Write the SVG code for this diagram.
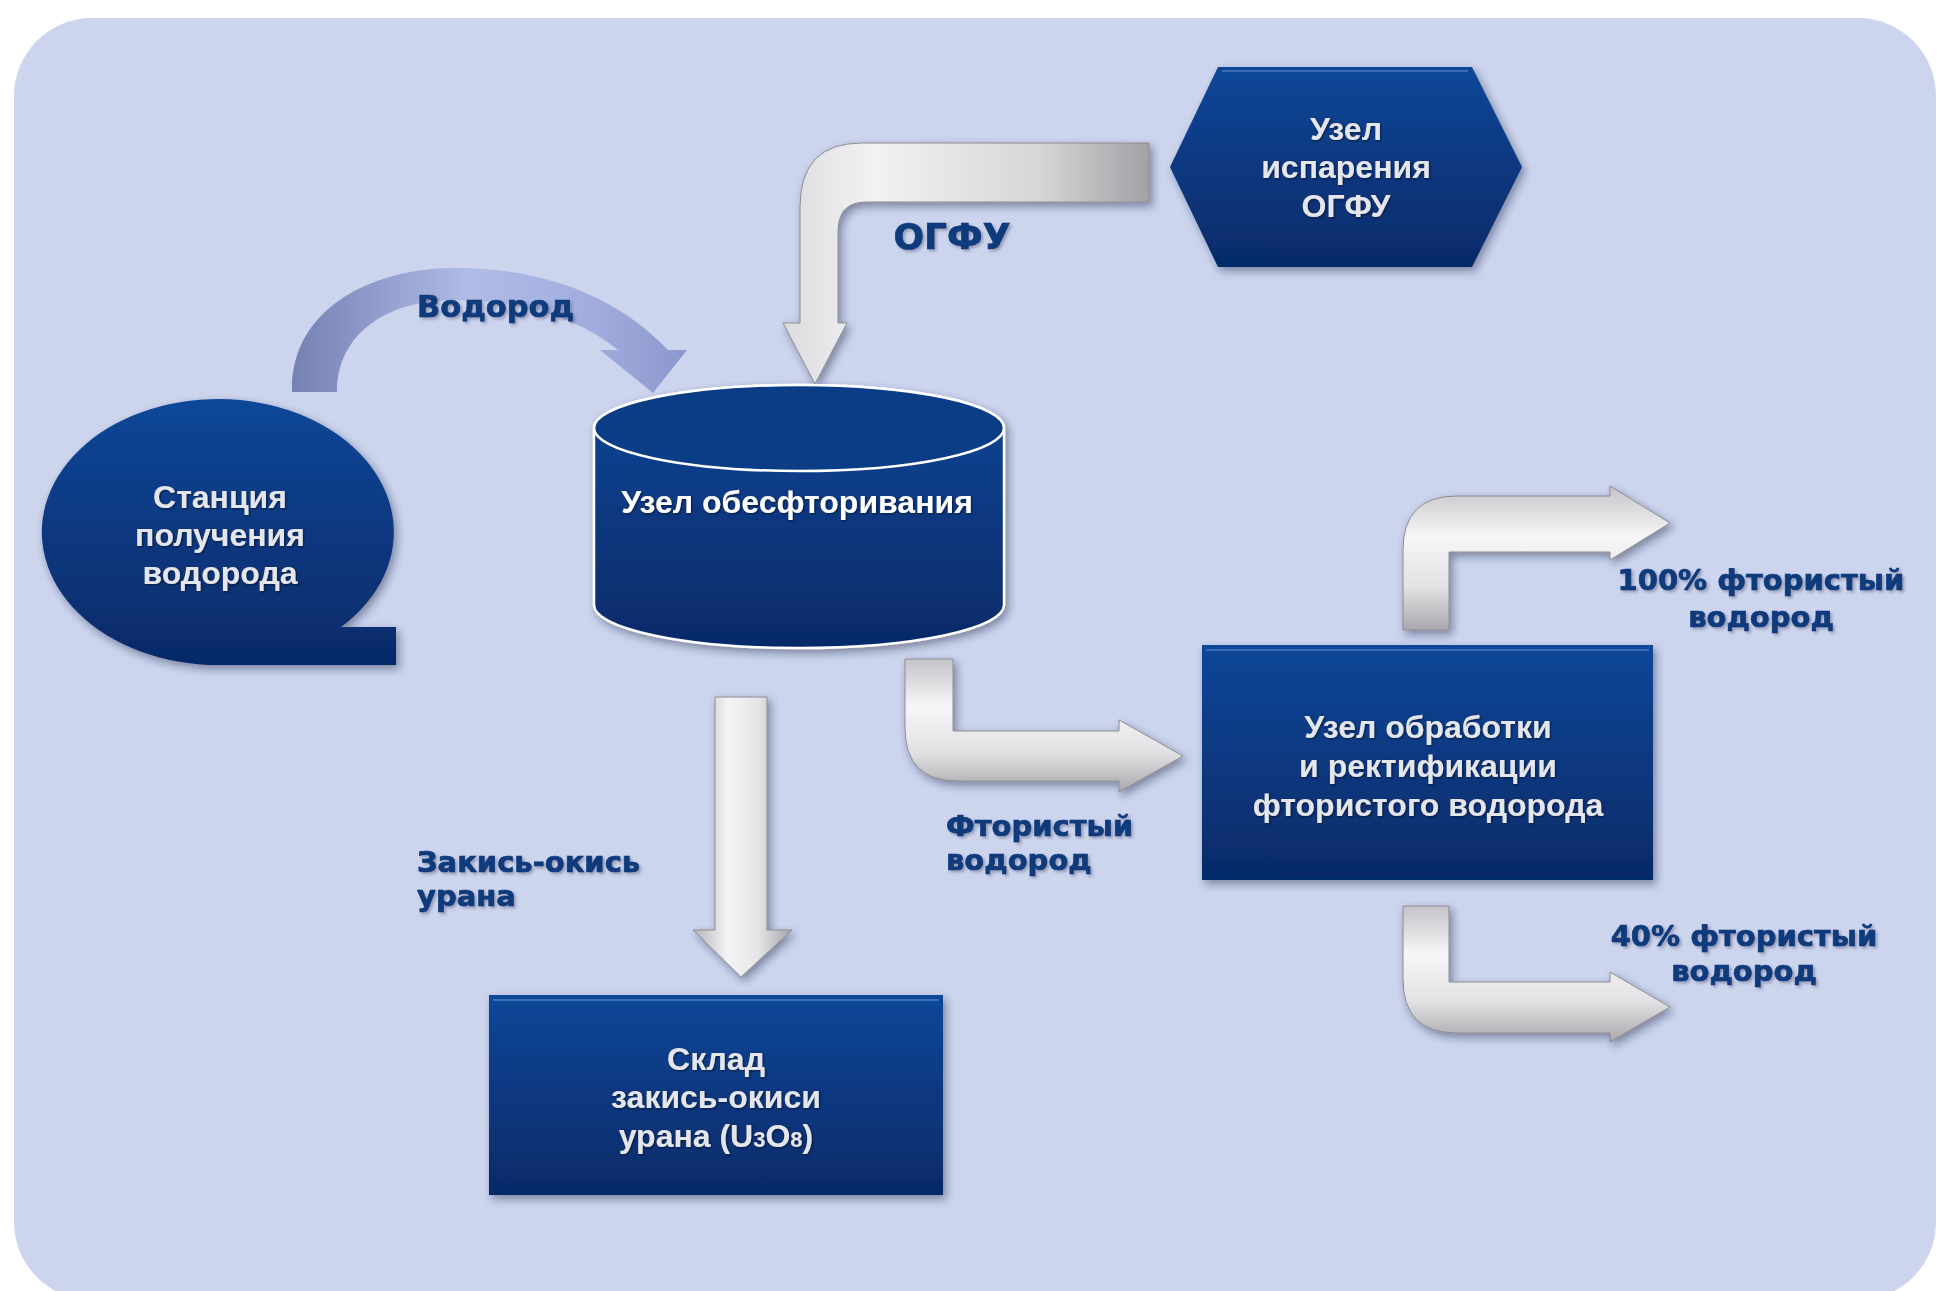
<svg xmlns="http://www.w3.org/2000/svg" width="1939" height="1291" viewBox="0 0 1939 1291">
  <defs>
    <linearGradient id="navy" x1="0" y1="0" x2="0" y2="1">
      <stop offset="0" stop-color="#0f4798"/>
      <stop offset="0.5" stop-color="#0a3880"/>
      <stop offset="1" stop-color="#062a68"/>
    </linearGradient>
    <linearGradient id="silverV" x1="0" y1="0" x2="1" y2="0">
      <stop offset="0" stop-color="#b4b4b8"/>
      <stop offset="0.35" stop-color="#f4f4f6"/>
      <stop offset="0.65" stop-color="#e6e6e8"/>
      <stop offset="1" stop-color="#a6a6aa"/>
    </linearGradient>
    <linearGradient id="silverH" x1="0" y1="0" x2="0" y2="1">
      <stop offset="0" stop-color="#c4c4c8"/>
      <stop offset="0.35" stop-color="#f6f6f8"/>
      <stop offset="0.7" stop-color="#e2e2e4"/>
      <stop offset="1" stop-color="#a8a8ac"/>
    </linearGradient>
    <linearGradient id="silverOgfu" x1="0" y1="0" x2="1" y2="0">
      <stop offset="0" stop-color="#dcdcde"/>
      <stop offset="0.25" stop-color="#f2f2f4"/>
      <stop offset="0.7" stop-color="#d6d6d8"/>
      <stop offset="1" stop-color="#a2a2a6"/>
    </linearGradient>
    <linearGradient id="blueArc" gradientUnits="userSpaceOnUse" x1="292" y1="0" x2="687" y2="0">
      <stop offset="0" stop-color="#7581b2"/>
      <stop offset="0.45" stop-color="#b0bbe6"/>
      <stop offset="0.75" stop-color="#a2aede"/>
      <stop offset="1" stop-color="#8c98cc"/>
    </linearGradient>
    <filter id="shadow" x="-10%" y="-10%" width="125%" height="130%">
      <feDropShadow dx="3" dy="4" stdDeviation="4" flood-color="#1a2040" flood-opacity="0.45"/>
    </filter>
    <filter id="lshadow" x="-10%" y="-20%" width="125%" height="150%">
      <feDropShadow dx="2" dy="2" stdDeviation="1.5" flood-color="#4a5070" flood-opacity="0.45"/>
    </filter>
    <filter id="tshadow" x="-10%" y="-20%" width="125%" height="150%">
      <feDropShadow dx="1" dy="1" stdDeviation="1" flood-color="#000820" flood-opacity="0.7"/>
    </filter>
  </defs>
  <style>
    .node { fill: url(#navy); filter: url(#shadow); }
    .ntext { font-family: "Liberation Sans", Arial, sans-serif; font-weight: bold; font-size: 32px; fill: #e4e6ec; text-anchor: middle; filter: url(#tshadow); }
    .label { font-family: "DejaVu Sans", Verdana, sans-serif; font-weight: bold; font-size: 29px; fill: #0b3a7c; stroke: #0b3a7c; stroke-width: 0.7; filter: url(#lshadow); }
    .silver { stroke: #8c8c92; stroke-width: 1; filter: url(#shadow); }
  </style>

  <rect x="0" y="0" width="1939" height="1291" fill="#ffffff"/>
  <rect x="14" y="18" width="1922" height="1282" rx="78" ry="78" fill="#ccd4ee"/>

  <g id="connectors">
    <path id="arrow-vodorod" d="M 292 392 C 290 310, 370 268, 455 268 C 550 268, 620 300, 668 350 L 687 350 L 653 393 L 600 350 L 618 350 C 580 318, 520 300, 455 300 C 385 300, 337 335, 337 392 Z" fill="url(#blueArc)"/>
    <path id="arrow-ogfu" class="silver" fill="url(#silverOgfu)" d="M 1149 143 L 862 143 Q 800 143 800 207 L 800 323 L 783 323 L 815 384 L 847 323 L 838 323 L 838 232 Q 838 202 866 202 L 1149 202 Z"/>
    <path id="arrow-u3o8" class="silver" fill="url(#silverV)" d="M 715 697 L 767 697 L 767 930 L 792 930 L 741 977 L 693 930 L 715 930 Z"/>
    <path id="arrow-hf" class="silver" fill="url(#silverH)" d="M 905 659 L 953 659 L 953 731 L 1119 731 L 1119 720 L 1183 756 L 1119 792 L 1119 781 L 958 781 Q 905 781 905 728 Z"/>
    <path id="arrow-hf100" class="silver" fill="url(#silverH)" d="M 1403 630 L 1403 550 Q 1403 496 1457 496 L 1610 496 L 1610 486 L 1670 523 L 1610 560 L 1610 552 L 1449 552 L 1449 630 Z"/>
    <path id="arrow-hf40" class="silver" fill="url(#silverH)" d="M 1403 906 L 1449 906 L 1449 982 L 1610 982 L 1610 972 L 1670 1007 L 1610 1042 L 1610 1033 L 1457 1033 Q 1403 1033 1403 979 Z"/>
  </g>

  <g id="labels">
    <text class="label" x="417" y="317" style="font-size:30.5px">Водород</text>
    <text class="label" x="952" y="249" style="font-size:36px" text-anchor="middle">ОГФУ</text>
    <text class="label" x="417" y="872">Закись-окись</text>
    <text class="label" x="417" y="906">урана</text>
    <text class="label" x="946" y="836">Фтористый</text>
    <text class="label" x="946" y="870">водород</text>
    <text class="label" x="1761" y="590" text-anchor="middle">100% фтористый</text>
    <text class="label" x="1761" y="627" text-anchor="middle">водород</text>
    <text class="label" x="1744" y="946" text-anchor="middle">40% фтористый</text>
    <text class="label" x="1744" y="981" text-anchor="middle">водород</text>
  </g>

  <g id="node-isparenie">
    <polygon class="node" points="1170,167 1218,67 1472,67 1522,167 1472,267 1218,267"/>
    <line x1="1222" y1="71" x2="1468" y2="71" stroke="#5a86c8" stroke-width="2" opacity="0.6"/>
    <text class="ntext" x="1346" y="140">Узел</text>
    <text class="ntext" x="1346" y="178">испарения</text>
    <text class="ntext" x="1346" y="217">ОГФУ</text>
  </g>

  <g id="node-station">
    <path class="node" d="M 218 665 A 176 133 0 1 1 341 627 L 396 627 L 396 665 Z"/>
    <text class="ntext" x="220" y="508">Станция</text>
    <text class="ntext" x="220" y="546">получения</text>
    <text class="ntext" x="220" y="584">водорода</text>
  </g>

  <g id="node-obesftor">
    <path class="node" d="M 594 428 L 594 605 A 205 43 0 0 0 1004 605 L 1004 428 A 205 43 0 0 0 594 428 Z" stroke="#ffffff" stroke-width="2.5"/>
    <ellipse cx="799" cy="428" rx="205" ry="43" fill="#0b3c86" stroke="#ffffff" stroke-width="2.5"/>
    <text class="ntext" x="797" y="513" style="fill:#ffffff">Узел обесфторивания</text>
  </g>

  <g id="node-obrabotka">
    <rect class="node" x="1202" y="645" width="451" height="235"/>
    <line x1="1206" y1="650" x2="1649" y2="650" stroke="#5a86c8" stroke-width="2" opacity="0.6"/>
    <text class="ntext" x="1428" y="738">Узел обработки</text>
    <text class="ntext" x="1428" y="777">и ректификации</text>
    <text class="ntext" x="1428" y="816">фтористого водорода</text>
  </g>

  <g id="node-sklad">
    <rect class="node" x="489" y="995" width="454" height="200"/>
    <line x1="493" y1="1000" x2="939" y2="1000" stroke="#5a86c8" stroke-width="2" opacity="0.6"/>
    <text class="ntext" x="716" y="1070">Склад</text>
    <text class="ntext" x="716" y="1108">закись-окиси</text>
    <text class="ntext" x="716" y="1147">урана (U<tspan font-size="22">3</tspan>O<tspan font-size="22">8</tspan>)</text>
  </g>
</svg>
